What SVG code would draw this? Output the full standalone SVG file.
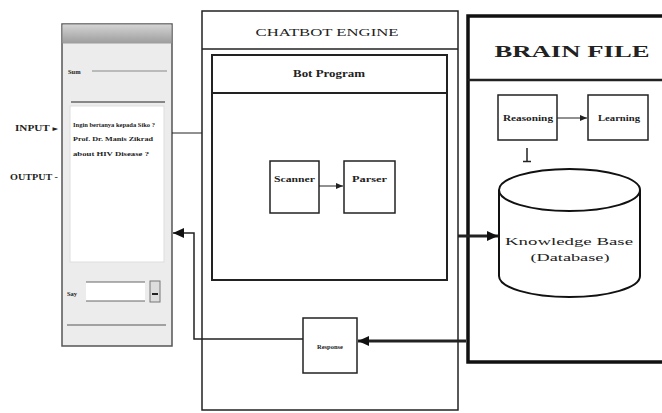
<svg xmlns="http://www.w3.org/2000/svg" width="662" height="413" viewBox="0 0 662 413">
<style>
.t{font-family:"Liberation Serif","DejaVu Serif",serif;fill:#222}
.b{font-weight:bold}
.box{fill:#fff;stroke:#222;stroke-width:1.5}
.ln{fill:none;stroke:#222}
</style>
<defs>
<linearGradient id="tb" x1="0" y1="0" x2="0" y2="1">
<stop offset="0" stop-color="#d4d4d4"/><stop offset="1" stop-color="#9c9c9c"/>
</linearGradient>
<marker id="sa" markerUnits="userSpaceOnUse" markerWidth="8" markerHeight="8" refX="7" refY="4" orient="auto"><path d="M0,1 L7,4 L0,7 Z" fill="#222"/></marker>
<marker id="ba" markerUnits="userSpaceOnUse" markerWidth="12" markerHeight="12" refX="11" refY="6" orient="auto"><path d="M0,1 L11,6 L0,11 Z" fill="#111"/></marker>
</defs>
<rect width="662" height="413" fill="#fff"/>

<g id="chat-window">
<rect x="62" y="24" width="110" height="322" fill="#ececec" stroke="#555" stroke-width="1.5"/>
<rect x="62.5" y="24.5" width="109" height="19" fill="url(#tb)"/>
<text class="t b" x="68" y="74" font-size="6.5">Sum</text>
<line x1="92" y1="71" x2="167" y2="71" stroke="#888"/>
<line x1="71" y1="102" x2="165" y2="102" stroke="#666" stroke-width="1.5"/>
<rect x="70" y="106" width="94" height="156" fill="#fff" stroke="#ddd"/>
<text class="t b" x="73" y="127" font-size="6" textLength="82" lengthAdjust="spacingAndGlyphs">Ingin bertanya kepada Siko ?</text>
<text class="t b" x="73" y="141" font-size="6.5" textLength="80" lengthAdjust="spacingAndGlyphs">Prof. Dr. Manis Zikrad</text>
<text class="t b" x="73" y="156" font-size="6.5" textLength="76" lengthAdjust="spacingAndGlyphs">about HIV Disease ?</text>
<text class="t b" x="67" y="296" font-size="6.5">Say</text>
<rect x="86" y="282" width="59" height="19" fill="#fff"/>
<line x1="86" y1="282" x2="145" y2="282" stroke="#666"/>
<line x1="86" y1="301" x2="145" y2="301" stroke="#666"/>
<rect x="150" y="281" width="10" height="21" fill="#ddd" stroke="#777"/>
<line x1="152" y1="294" x2="158" y2="294" stroke="#222" stroke-width="2"/>
<line x1="67" y1="325" x2="166" y2="325" stroke="#888" stroke-width="1.5"/>
</g>

<g id="io-labels">
<text class="t b" x="15" y="131" font-size="7.5" textLength="43" lengthAdjust="spacingAndGlyphs">INPUT ▸</text>
<text class="t b" x="10" y="180" font-size="7.5" textLength="48" lengthAdjust="spacingAndGlyphs">OUTPUT -</text>
</g>

<g id="chatbot-engine">
<rect class="box" x="202" y="11" width="256" height="399"/>
<line class="ln" x1="202" y1="49" x2="458" y2="49" stroke-width="1.5"/>
<text class="t" x="327" y="36" font-size="11" text-anchor="middle" textLength="143" lengthAdjust="spacingAndGlyphs">CHATBOT ENGINE</text>
</g>

<g id="bot-program">
<rect x="212" y="55" width="235" height="225" fill="#fff" stroke="#222" stroke-width="2"/>
<line class="ln" x1="212" y1="93" x2="447" y2="93" stroke-width="2"/>
<text class="t b" x="329" y="77" font-size="10" text-anchor="middle" textLength="72" lengthAdjust="spacingAndGlyphs">Bot Program</text>
</g>

<g id="scanner">
<rect class="box" x="270" y="161" width="49" height="52"/>
<text class="t b" x="294.5" y="182" font-size="8.5" text-anchor="middle" textLength="41" lengthAdjust="spacingAndGlyphs">Scanner</text>
</g>
<g id="parser">
<rect class="box" x="344" y="161" width="51" height="52"/>
<text class="t b" x="369.5" y="182" font-size="8.5" text-anchor="middle" textLength="35" lengthAdjust="spacingAndGlyphs">Parser</text>
</g>

<g id="response">
<rect class="box" x="303" y="318" width="54" height="55"/>
<text class="t b" x="330" y="349" font-size="6.5" text-anchor="middle">Response</text>
</g>

<g id="brain-file">
<rect x="468" y="16" width="200" height="346" fill="#fff" stroke="#111" stroke-width="3.5"/>
<line class="ln" x1="468" y1="80" x2="664" y2="80" stroke-width="2.5"/>
<text class="t b" x="572" y="57" font-size="17" text-anchor="middle" textLength="155" lengthAdjust="spacingAndGlyphs">BRAIN FILE</text>
</g>

<g id="reasoning">
<rect class="box" x="498" y="95" width="59" height="45"/>
<text class="t b" x="528" y="121" font-size="8" text-anchor="middle" textLength="50" lengthAdjust="spacingAndGlyphs">Reasoning</text>
</g>
<g id="learning">
<rect class="box" x="588" y="95" width="60" height="45"/>
<text class="t b" x="619" y="121" font-size="8" text-anchor="middle" textLength="42" lengthAdjust="spacingAndGlyphs">Learning</text>
</g>

<g id="knowledge-base">
<path d="M499,190 V276 A70.5,21 0 0,0 640,276 V190" fill="#fff" stroke="#111" stroke-width="2"/>
<ellipse cx="569.5" cy="190" rx="70.5" ry="21" fill="#fff" stroke="#111" stroke-width="2"/>
<text class="t" x="569" y="245" font-size="10.5" text-anchor="middle" textLength="128" lengthAdjust="spacingAndGlyphs">Knowledge Base</text>
<text class="t" x="570" y="261" font-size="10.5" text-anchor="middle" textLength="79" lengthAdjust="spacingAndGlyphs">(Database)</text>
</g>

<g id="connectors">
<line class="ln" x1="172" y1="133" x2="202" y2="133"/>
<path class="ln" d="M303,339 H194 V233 H173" stroke-width="1.5" marker-end="url(#ba)"/>
<line class="ln" x1="319" y1="186" x2="343" y2="186" marker-end="url(#sa)"/>
<line class="ln" x1="557" y1="118" x2="587" y2="118" marker-end="url(#sa)"/>
<line class="ln" x1="527" y1="148" x2="527" y2="161" stroke-width="1.5"/>
<line class="ln" x1="523" y1="161.5" x2="531" y2="161.5" stroke-width="1.5"/>
<line class="ln" x1="458" y1="236" x2="498" y2="236" stroke-width="3" marker-end="url(#ba)"/>
<line class="ln" x1="466" y1="341" x2="358" y2="341" stroke-width="3" marker-end="url(#ba)"/>
</g>
</svg>
